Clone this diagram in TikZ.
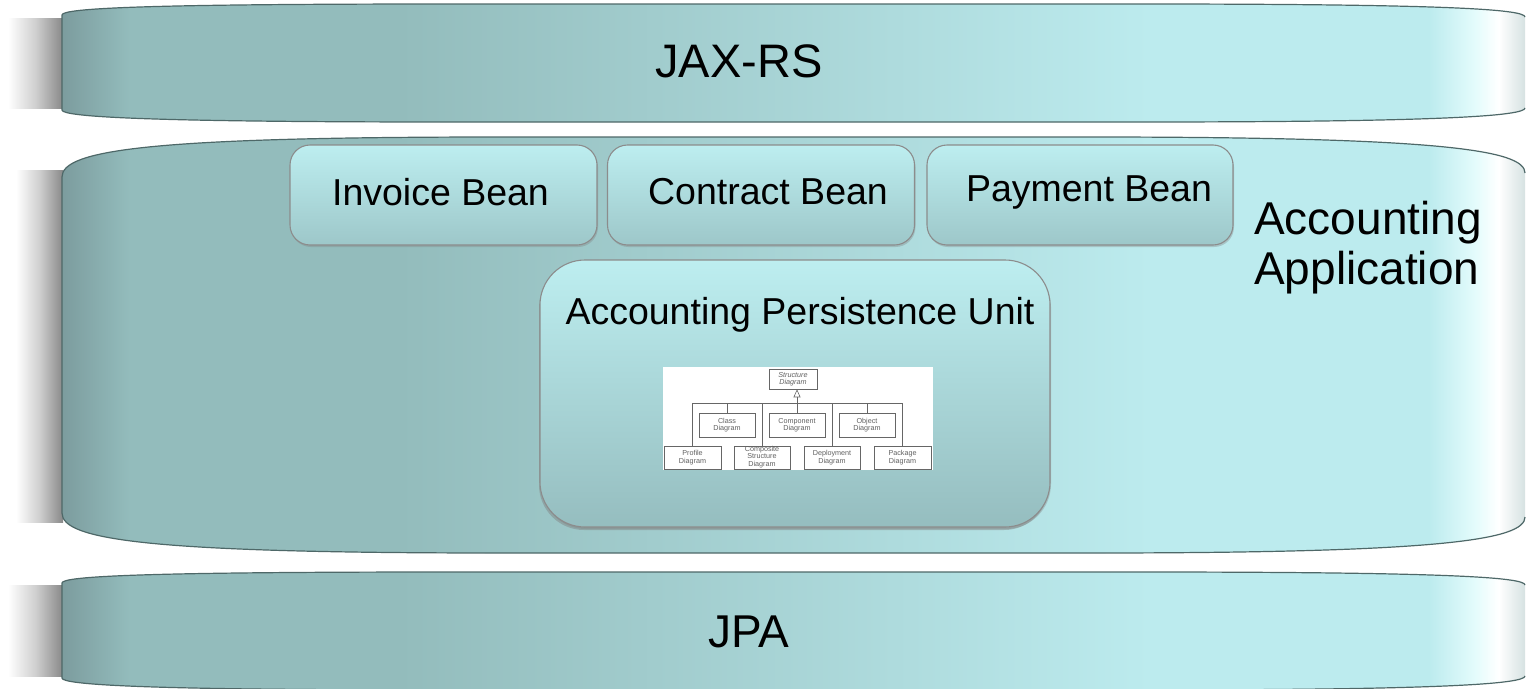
\documentclass[tikz,border=0pt]{standalone}
\usepackage{fontspec}
\setmainfont{Liberation Sans}
\usetikzlibrary{arrows.meta,shadows}
\definecolor{bA}{HTML}{7C9C9E}
\definecolor{bB}{HTML}{93BCBC}
\definecolor{bC}{HTML}{BCEBEE}
\definecolor{bD}{HTML}{E4FCFC}
\definecolor{bE}{HTML}{D6E2E2}
\definecolor{shW}{HTML}{FFFFFF}
\definecolor{shM}{HTML}{CFCFCF}
\definecolor{shG}{HTML}{888888}
\definecolor{edgec}{HTML}{4E6868}
\definecolor{boxT}{HTML}{BDEEF0}
\definecolor{boxB}{HTML}{9DC7C9}
% x = 62 -> 25bp, x = 1525 -> 75bp
\pgfdeclarehorizontalshading{bandsh}{100bp}{color(0bp)=(bA); color(25bp)=(bA);
  color(27.3bp)=(bB); color(36.5bp)=(bB); color(62.2bp)=(bC); color(71.7bp)=(bC);
  color(73.3bp)=(bD); color(74.1bp)=(shW); color(75bp)=(bE); color(100bp)=(bE)}
\pgfdeclarehorizontalshading{leftsh}{100bp}{color(0bp)=(shW); color(25bp)=(shW);
  color(50bp)=(shM); color(75bp)=(shG); color(100bp)=(shG)}
\tikzset{
  edgeline/.style={draw=edgec, line width=1.2pt},
  lshadow/.style={shading=leftsh},
  bigtext/.style={font=\fontsize{47}{54}\selectfont, inner sep=0pt},
  bean/.style={draw=black!45, line width=1.1pt, rounded corners=20pt,
    top color=boxT, bottom color=boxB, minimum width=307pt, minimum height=100pt,
    drop shadow={shadow xshift=1pt, shadow yshift=-2pt, opacity=0.35}},
  beantext/.style={inner sep=0pt, font=\fontsize{37.5}{44}\selectfont},
  umlbox/.style={draw=black!60, line width=0.6pt, fill=white, inner sep=0pt,
    align=center, text=black!62, font=\fontsize{7.2}{7.5}\selectfont},
  umlline/.style={draw=black!60, line width=0.6pt},
}
\begin{document}
\begin{tikzpicture}[x=1pt,y=-1pt]
\useasboundingbox (0,0) rectangle (1530,688);

% soft shadows on the left of the bands
\shade[lshadow] (8,18) rectangle (63,108);
\shade[lshadow] (16,170) rectangle (63,522);
\shade[lshadow] (8,585) rectangle (63,676);

% JAX-RS band
\shade[shading=bandsh] (62,15) .. controls (62,8) and (150,4) .. (450,4) -- (1140,4)
  .. controls (1440,4) and (1525,9) .. (1525,17) -- (1525,108)
  .. controls (1525,116) and (1440,122) .. (1140,122) -- (450,122)
  .. controls (150,122) and (62,117) .. (62,110) -- cycle;
\draw[edgeline] (1525,17) .. controls (1525,9) and (1440,4) .. (1140,4) -- (450,4)
  .. controls (150,4) and (62,8) .. (62,15) -- (62,110)
  .. controls (62,117) and (150,122) .. (450,122) -- (1140,122)
  .. controls (1440,122) and (1525,116) .. (1525,108);

% application band
\shade[shading=bandsh] (62,177) .. controls (62,150) and (150,137) .. (500,137) -- (1090,137)
  .. controls (1440,137) and (1525,150) .. (1525,173) -- (1525,517)
  .. controls (1525,540) and (1440,553) .. (1090,553) -- (500,553)
  .. controls (150,553) and (62,540) .. (62,513) -- cycle;
\draw[edgeline] (1525,173) .. controls (1525,150) and (1440,137) .. (1090,137) -- (500,137)
  .. controls (150,137) and (62,150) .. (62,177) -- (62,513)
  .. controls (62,540) and (150,553) .. (500,553) -- (1090,553)
  .. controls (1440,553) and (1525,540) .. (1525,517);

% JPA band
\shade[shading=bandsh] (62,583) .. controls (62,576) and (150,572) .. (450,572) -- (1140,572)
  .. controls (1440,572) and (1525,577) .. (1525,585) -- (1525,676)
  .. controls (1525,684) and (1440,690) .. (1140,690) -- (450,690)
  .. controls (150,690) and (62,685) .. (62,678) -- cycle;
\draw[edgeline] (1525,585) .. controls (1525,577) and (1440,572) .. (1140,572) -- (450,572)
  .. controls (150,572) and (62,576) .. (62,583) -- (62,678)
  .. controls (62,685) and (150,690) .. (450,690) -- (1140,690)
  .. controls (1440,690) and (1525,684) .. (1525,676);

% band labels
\node[bigtext] (jaxrs) at (739,61) {JAX-RS};
\node[bigtext, font=\fontsize{46}{54}\selectfont] (jpa) at (749,632) {JPA};
\node[inner sep=0pt, anchor=west, align=left, font=\fontsize{46}{50}\selectfont] (app) at (1254,248) {Accounting\\Application};

% beans
\node[bean] (invoice) at (443.5,195) {};
\node[bean] (contract) at (761,195) {};
\node[bean, minimum width=306pt] (payment) at (1080,195) {};
\node[beantext] (invoiceT) at (440.5,192) {Invoice Bean};
\node[beantext] (contractT) at (768,192) {Contract Bean};
\node[beantext] (paymentT) at (1089,192) {Payment Bean};

% persistence unit
\node[bean, minimum width=510pt, minimum height=267pt, rounded corners=45pt,
  top color=boxT, bottom color=boxB!95!black,
  drop shadow={shadow xshift=-1pt, shadow yshift=-3pt, opacity=0.45}] (apu) at (795,393.5) {};
\node[beantext] (apuT) at (800,315) {Accounting Persistence Unit};

% embedded UML structure diagram
\node[fill=white, minimum width=270pt, minimum height=103pt, inner sep=0pt] (dg) at (798,418.5) {};
\node[umlbox, minimum width=48pt, minimum height=20pt, font=\fontsize{7.2}{7.5}\selectfont\itshape] (struct) at (793,379) {Structure\\Diagram};
\node[umlbox, minimum width=56pt, minimum height=24pt] (cls) at (727,425) {Class\\Diagram};
\node[umlbox, minimum width=56pt, minimum height=24pt] (cmp) at (797,425) {Component\\Diagram};
\node[umlbox, minimum width=56pt, minimum height=24pt] (obj) at (867,425) {Object\\Diagram};
\node[umlbox, minimum width=57pt, minimum height=23pt] (prof) at (692.5,457.5) {Profile\\Diagram};
\node[umlbox, minimum width=56pt, minimum height=23pt] (comp) at (762,457.5) {};
\node[inner sep=0pt, align=center, text=black!62, font=\fontsize{7.2}{7.5}\selectfont] (compT) at (762,457) {Composite\\Structure\\Diagram};
\node[umlbox, minimum width=56pt, minimum height=23pt] (dep) at (832,457.5) {Deployment\\Diagram};
\node[umlbox, minimum width=57pt, minimum height=23pt] (pack) at (902.5,457.5) {Package\\Diagram};
\coordinate (busL) at (692.5,403);
\coordinate (busR) at (902.5,403);
\draw[umlline] (busL) -- (busR);
\draw[umlline] (prof.north) -- (prof.north |- busL);
\draw[umlline] (cls.north) -- (cls.north |- busL);
\draw[umlline] (comp.north) -- (comp.north |- busL);
\draw[umlline] (cmp.north) -- (cmp.north |- busL);
\draw[umlline] (dep.north) -- (dep.north |- busL);
\draw[umlline] (obj.north) -- (obj.north |- busL);
\draw[umlline] (pack.north) -- (pack.north |- busL);
\draw[umlline, -{Triangle[open, length=8pt, width=7pt]}] (cmp.north |- busL) -- (cmp.north |- struct.south);
\end{tikzpicture}
\end{document}
